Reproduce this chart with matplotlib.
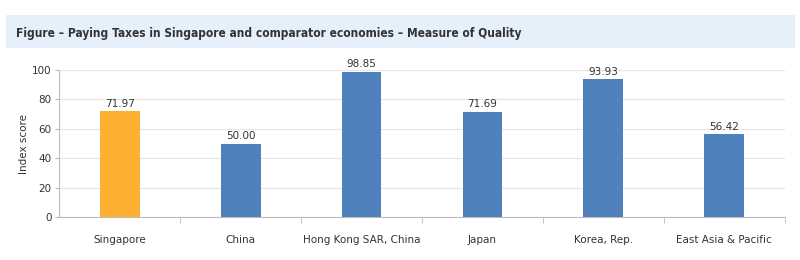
import matplotlib.pyplot as plt
from matplotlib.patches import Rectangle

# data
economies = ["Singapore", "China", "Hong Kong SAR, China", "Japan",
             "Korea, Rep.", "East Asia & Pacific"]
scores = [71.97, 50.00, 98.85, 71.69, 93.93, 56.42]
bar_colors = ["#fbb12f", "#4f81bd", "#4f81bd", "#4f81bd", "#4f81bd", "#4f81bd"]
y_ticks = [0, 20, 40, 60, 80, 100]

fig = plt.figure(figsize=(8, 2.6), dpi=100)

# title band
fig.patches.append(Rectangle((0.0075, 0.815), 0.986, 0.127, transform=fig.transFigure,
                             facecolor="#e6f0fa", edgecolor="none", zorder=0))
fig.text(0.02, 0.873, "Figure \u2013 Paying Taxes in Singapore and comparator economies \u2013 Measure of Quality",
         fontsize=8.6, fontweight="bold", color="#333333", va="center",
         family="DejaVu Sans", fontstretch="condensed")

ax = fig.add_axes([0.074, 0.165, 0.907, 0.566])
x = range(len(economies))
bars = ax.bar(x, scores, width=0.33, color=bar_colors, zorder=3)
for xi, v in zip(x, scores):
    ax.text(xi, v + 1.5, f"{v:.2f}", ha="center", va="bottom", fontsize=7.5, color="#333333")

ax.set_xlim(-0.5, len(economies) - 0.5)
ax.set_ylim(0, 100)
ax.set_yticks(y_ticks)
ax.set_xticks(list(x))
ax.set_xticklabels(economies, fontsize=7.5, color="#333333")
ax.set_xticks([i + 0.5 for i in range(len(economies))], minor=True)
ax.tick_params(axis="x", which="major", length=0, pad=13)
ax.tick_params(axis="x", which="minor", length=4, color="#bbbbbb")
ax.tick_params(axis="y", labelsize=7.5, labelcolor="#333333", length=3, pad=2.5, color="#bbbbbb")
ax.set_ylabel("Index score", fontsize=7.5, color="#333333", labelpad=2)
ax.grid(axis="y", color="#e4e4e4", linewidth=0.8, zorder=0)
for s in ["top", "right"]:
    ax.spines[s].set_visible(False)
ax.spines["left"].set_color("#bbbbbb")
ax.spines["bottom"].set_color("#bbbbbb")

fig.savefig("out.png", dpi=100)
